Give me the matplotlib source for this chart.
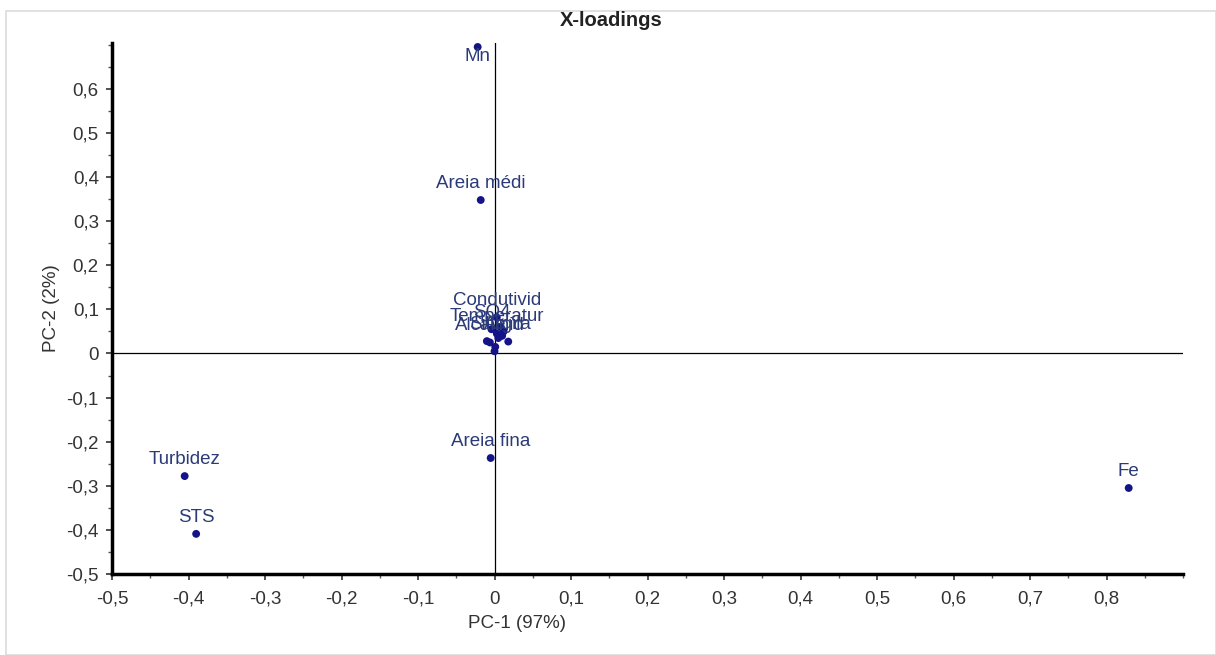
import matplotlib
matplotlib.use("Agg")
import matplotlib.pyplot as plt
from matplotlib.ticker import MultipleLocator, FuncFormatter
from matplotlib.patches import Rectangle

names = ["Mn", "Areia médi", "Areia fina", "Turbidez", "STS", "Fe",
         "Condutivid", "SO4", "Temperatur", "Alcalinid", "Silte", "Argila",
         "pH", "Cor", "Cl", "OD", "DQO", "NO3"]
pc1 = [-0.022, -0.018, -0.005, -0.405, -0.390, 0.829,
       0.003, -0.004, 0.003, -0.006, -0.010, 0.018,
       0.001, 0.0, 0.008, 0.012, 0.005, 0.010]
pc2 = [0.695, 0.348, -0.237, -0.278, -0.409, -0.305,
       0.082, 0.055, 0.045, 0.025, 0.028, 0.027,
       0.015, 0.005, 0.060, 0.050, 0.035, 0.040]
shown = ["Mn", "Areia médi", "Areia fina", "Turbidez", "STS", "Fe",
         "Condutivid", "SO4", "Temperatur", "Alcalinid", "Silte", "Argila"]

navy = "#141488"
labc = "#2b3a78"
plt.rcParams['font.family'] = ['Liberation Sans', 'DejaVu Sans']
fs = 13.5

fig = plt.figure(figsize=(12.16, 6.55), dpi=100)
fig.patches.append(Rectangle((6/1216, 0.0), 1 - 6/1216, 1 - 11/655, transform=fig.transFigure,
                             fill=False, edgecolor="#dcdcdc", lw=1.2))
ax = fig.add_axes([112/1216, 1 - 574/655, (1183 - 112)/1216, (574 - 43)/655])
ax.set_xlim(-0.5, 0.9)
ax.set_ylim(-0.5, 0.704)

ax.axhline(0, color="black", lw=0.9, zorder=1)
ax.axvline(0, color="black", lw=0.9, zorder=1)
ax.scatter(pc1, pc2, s=32, color=navy, zorder=3, edgecolors="none")

for n, x, y in zip(names, pc1, pc2):
    if n not in shown:
        continue
    if n == "Mn":
        ax.annotate(n, (x, y), xytext=(0, -1), textcoords="offset points",
                    ha="center", va="top", color=labc, fontsize=fs, zorder=4)
    else:
        ax.annotate(n, (x, y), xytext=(0, 6), textcoords="offset points",
                    ha="center", va="bottom", color=labc, fontsize=fs, zorder=4)

for s in ("top", "right"):
    ax.spines[s].set_visible(False)
for s in ("left", "bottom"):
    ax.spines[s].set_linewidth(2.5)

ax.xaxis.set_major_locator(MultipleLocator(0.1))
ax.xaxis.set_minor_locator(MultipleLocator(0.05))
ax.yaxis.set_major_locator(MultipleLocator(0.1))
ax.yaxis.set_minor_locator(MultipleLocator(0.05))

def fmt(v, pos):
    v = round(v, 2)
    if abs(v) < 1e-9:
        return "0"
    return ("%.1f" % v).replace(".", ",")

ax.xaxis.set_major_formatter(FuncFormatter(fmt))
ax.yaxis.set_major_formatter(FuncFormatter(fmt))
ax.tick_params(which="major", length=4, width=1.2, labelsize=fs, colors="#333333")
ax.tick_params(axis="x", which="major", pad=8)
ax.tick_params(axis="y", which="major", pad=5.5)
ax.tick_params(which="minor", length=3, width=1.0, colors="#555555")
ax.set_xticks([t / 10 for t in range(-5, 9)])
ax.set_yticks([t / 10 for t in range(-5, 7)])

ax.set_xlabel("PC-1 (97%)", fontsize=fs, color="#333333")
ax.xaxis.set_label_coords((517 - 112) / (1183 - 112), -0.078)
ax.set_ylabel("PC-2 (2%)", fontsize=fs, color="#333333")
ax.yaxis.set_label_coords(-(112 - 60) / (1183 - 112), 0.5)

fig.text(611 / 1216, 1 - 21 / 655, "X-loadings", ha="center", va="center",
         fontsize=14.5, fontweight="bold", color="#222222")

fig.savefig("out.png", dpi=100)
